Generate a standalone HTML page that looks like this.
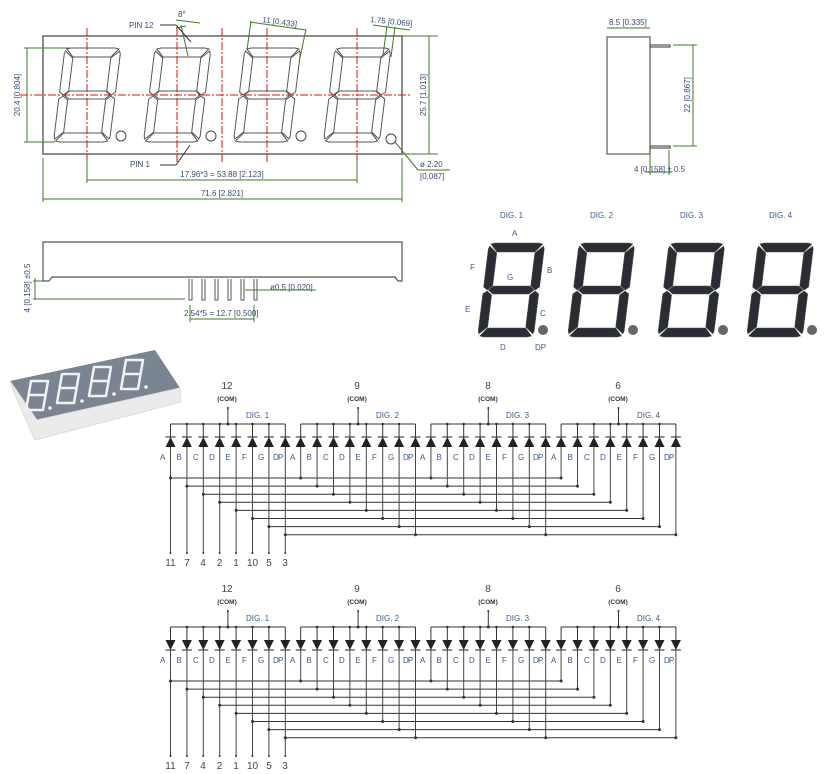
<!DOCTYPE html>
<html><head><meta charset="utf-8"><style>
html,body{margin:0;padding:0;background:#fff;}
svg{display:block;font-family:"Liberation Sans",sans-serif;}
.dim{stroke:#3f7a2c;stroke-width:1;fill:none}
.dt{fill:#3b4a70;font-size:8px;font-family:"Liberation Sans Narrow","Liberation Sans",sans-serif}
.red{stroke:#e01010;stroke-width:1;stroke-dasharray:8 2 2 2;fill:none}
.w{stroke:#333;stroke-width:1;fill:none}
.lb{font-size:8px;fill:#3a5a8f;font-family:"Liberation Sans Narrow","Liberation Sans",sans-serif}
.num{font-size:10px;fill:#444}
.com{font-size:6.5px;fill:#333;font-weight:bold}
.dg{font-size:8px;fill:#3a5a8f}
.bd{font-size:10px;fill:#444}
</style></head><body>
<svg id="s" width="824" height="774" viewBox="0 0 824 774" xmlns="http://www.w3.org/2000/svg">
<defs>
<g id="seg">
<polygon points="2,1 6,0 50,0 54,1 47,9 9,9"/>
<polygon points="55,3 56,6 56,44 52,47 47,43 47,10"/>
<polygon points="52,48 56,51 56,88 55,91 47,84 47,52"/>
<polygon points="9,85 47,85 54,93 50,94 6,94 2,93"/>
<polygon points="0,51 4,48 9,52 9,84 1,91 0,88"/>
<polygon points="1,3 9,10 9,43 4,47 0,44 0,6"/>
<polygon points="5,47 10,43 46,43 51,47 46,51 10,51"/>
</g>
</defs>

<!-- Top view -->
<rect x="43" y="36" width="359" height="118" fill="none" stroke="#666" stroke-width="1.5"/>
<g fill="none" stroke="#555" stroke-width="1">
<use href="#seg" transform="translate(65,48) skewX(-7)"/>
<use href="#seg" transform="translate(155,48) skewX(-7)"/>
<use href="#seg" transform="translate(245,48) skewX(-7)"/>
<use href="#seg" transform="translate(335,48) skewX(-7)"/>
</g>
<g fill="none" stroke="#444"><circle cx="121" cy="136" r="5"/><circle cx="211" cy="136" r="5"/><circle cx="301" cy="136" r="5"/><circle cx="391" cy="139" r="5"/></g>
<line class="red" x1="20" y1="95" x2="410" y2="95"/>
<line class="red" x1="87" y1="28" x2="87" y2="162"/>
<line class="red" x1="177" y1="28" x2="177" y2="162"/>
<line class="red" x1="222" y1="28" x2="222" y2="162"/>
<line class="red" x1="267" y1="28" x2="267" y2="162"/>
<line class="red" x1="357" y1="28" x2="357" y2="162"/>
<g class="dim">
<line x1="24" y1="48" x2="70" y2="48"/><line x1="24" y1="142" x2="55" y2="142"/><line x1="27" y1="48" x2="27" y2="142"/>
<line x1="402" y1="36" x2="438" y2="36"/><line x1="402" y1="154" x2="438" y2="154"/><line x1="429" y1="36" x2="429" y2="154"/>
<line x1="87" y1="160" x2="87" y2="183"/><line x1="357" y1="160" x2="357" y2="183"/><line x1="87" y1="180" x2="357" y2="180"/>
<line x1="43" y1="158" x2="43" y2="202"/><line x1="402" y1="158" x2="402" y2="202"/><line x1="43" y1="199" x2="402" y2="199"/>
<line x1="247" y1="50" x2="251" y2="21"/><line x1="300" y1="58" x2="306" y2="29"/><line x1="250" y1="22" x2="306" y2="30"/>
<line x1="383" y1="55" x2="387" y2="26"/><line x1="391" y1="57" x2="395" y2="27"/><line x1="373" y1="25" x2="410" y2="30"/>
<line x1="176" y1="28" x2="186" y2="26"/><line x1="176" y1="20" x2="200" y2="23"/>
<line x1="181" y1="25" x2="188" y2="56"/>
<line x1="395" y1="142" x2="418" y2="170"/><line x1="418" y1="170" x2="450" y2="170"/>
</g>
<g class="w"><line x1="160" y1="25" x2="176" y2="25"/><line x1="176" y1="25" x2="191" y2="42"/>
<line x1="160" y1="165" x2="176" y2="165"/><line x1="176" y1="165" x2="190" y2="145"/></g>
<text class="dt" x="20" y="95" transform="rotate(-90 20 95)" text-anchor="middle">20.4 [0.804]</text>
<text class="dt" x="426" y="95" transform="rotate(-90 426 95)" text-anchor="middle">25.7 [1.013]</text>
<text class="dt" x="222" y="177" text-anchor="middle">17.96*3 = 53.88 [2.123]</text>
<text class="dt" x="222" y="196" text-anchor="middle">71.6 [2.821]</text>
<text class="dt" x="262" y="22" transform="rotate(8 262 22)">11 [0.433]</text>
<text class="dt" x="370" y="22" transform="rotate(6 370 22)">1.75 [0.069]</text>
<text class="dt" x="178" y="17" fill="#b08a00">8°</text>
<text class="dt" x="129" y="28">PIN 12</text>
<text class="dt" x="130" y="167">PIN 1</text>
<text class="dt" x="420" y="167">ø 2.20</text>
<text class="dt" x="420" y="179">[0.087]</text>

<!-- right side view -->
<rect x="607" y="37" width="43" height="117" fill="none" stroke="#666" stroke-width="1.3"/>
<g class="w" stroke="#666"><path d="M650 45 h20 v2 h-20 M650 146 h20 v2 h-20"/></g>
<g class="dim"><line x1="607" y1="28" x2="650" y2="28"/><line x1="673" y1="45" x2="697" y2="45"/><line x1="673" y1="146" x2="697" y2="146"/><line x1="693" y1="45" x2="693" y2="146"/>
<line x1="650" y1="150" x2="650" y2="175"/><line x1="669" y1="150" x2="669" y2="175"/><line x1="645" y1="172" x2="672" y2="172"/></g>
<text class="dt" x="609" y="25">8.5 [0.335]</text>
<text class="dt" x="690" y="95" transform="rotate(-90 690 95)" text-anchor="middle">22 [0.867]</text>
<text class="dt" x="634" y="172">4 [0.158] ± 0.5</text>

<!-- side view -->
<path d="M43 242 H402 V281 H398 L395 277 H52 L49 281 H43 Z" fill="none" stroke="#555" stroke-width="1.2"/>
<g fill="none" stroke="#555"><path d="M189 279 V300 H192 V279 M202 279 V300 H205 V279 M215 279 V300 H218 V279 M228 279 V300 H231 V279 M241 279 V300 H244 V279 M254 279 V300 H257 V279"/></g>
<g class="dim"><line x1="33" y1="281" x2="43" y2="281"/><line x1="33" y1="299" x2="185" y2="299"/><line x1="35" y1="278" x2="35" y2="300"/>
<line x1="190" y1="305" x2="190" y2="322"/><line x1="254" y1="305" x2="254" y2="322"/><line x1="190" y1="319" x2="254" y2="319"/>
<line x1="245" y1="290" x2="316" y2="290"/></g>
<text class="dt" x="30" y="288" transform="rotate(-90 30 288)" text-anchor="middle">4 [0.158] ±0.5</text>
<text class="dt" x="270" y="290">ø0.5 [0.020]</text>
<text class="dt" x="184" y="316">2.54*5 = 12.7 [0.500]</text>

<!-- black digits -->
<g fill="#2a2d31" stroke="#555" stroke-width="0.5">
<use href="#seg" transform="translate(489,243) skewX(-7)"/>
<use href="#seg" transform="translate(579,243) skewX(-7)"/>
<use href="#seg" transform="translate(669,243) skewX(-7)"/>
<use href="#seg" transform="translate(758,243) skewX(-7)"/>
</g>
<g fill="#666"><circle cx="543" cy="330" r="5"/><circle cx="633" cy="330" r="5"/><circle cx="723" cy="330" r="5"/><circle cx="812" cy="330" r="5"/></g>
<g class="dg" font-size="9"><text x="500" y="218">DIG. 1</text><text x="590" y="218">DIG. 2</text><text x="680" y="218">DIG. 3</text><text x="769" y="218">DIG. 4</text>
<text x="512" y="236">A</text><text x="470" y="270">F</text><text x="547" y="273">B</text><text x="507" y="280">G</text><text x="465" y="312">E</text><text x="540" y="316">C</text><text x="500" y="350">D</text><text x="535" y="350">DP</text></g>

<!-- photo -->
<polygon points="10,381 155,350 180,388 37,420" fill="#7a8591"/>
<polygon points="10,381 37,420 180,388 181,402 35,440 15,395" fill="#ebebeb" stroke="#ddd"/>
<g fill="none" stroke="#f2f2f2" stroke-width="2.5" stroke-linejoin="round">
<path d="M31 381 h17 l-5 29 h-17 z M28 395 h17"/>
<path d="M62 374 h17 l-5 29 h-17 z M59 388 h17"/>
<path d="M94 367 h17 l-5 29 h-17 z M91 381 h17"/>
<path d="M126 360 h17 l-5 29 h-17 z M123 374 h17"/>
</g>
<g fill="#f2f2f2"><circle cx="50" cy="408" r="1.8"/><circle cx="82" cy="401" r="1.8"/><circle cx="114" cy="394" r="1.8"/><circle cx="146" cy="387" r="1.8"/></g>

<g id="sch1"></g>
<g id="sch2"></g>

<g class="num" text-anchor="middle"><text x="227" y="389">12</text><text x="357" y="389">9</text><text x="488" y="389">8</text><text x="618" y="389">6</text>
<text x="227" y="592">12</text><text x="357" y="592">9</text><text x="488" y="592">8</text><text x="618" y="592">6</text></g>
<g class="com" text-anchor="middle"><text x="227" y="401">(COM)</text><text x="357" y="401">(COM)</text><text x="488" y="401">(COM)</text><text x="618" y="401">(COM)</text>
<text x="227" y="604">(COM)</text><text x="357" y="604">(COM)</text><text x="488" y="604">(COM)</text><text x="618" y="604">(COM)</text></g>
<g class="dg"><text x="246" y="418">DIG. 1</text><text x="376" y="418">DIG. 2</text><text x="506" y="418">DIG. 3</text><text x="637" y="418">DIG. 4</text>
<text x="246" y="621">DIG. 1</text><text x="376" y="621">DIG. 2</text><text x="506" y="621">DIG. 3</text><text x="637" y="621">DIG. 4</text></g>
<g class="lb">
<text x="160 176.5 193 209 225.5 242 258 273 278" y="460">ABCDEFGDP</text>
<text x="290 306.5 323 339 355.5 372 388 403 408" y="460">ABCDEFGDP</text>
<text x="420 436.5 453 469 485.5 502 518 533 538" y="460">ABCDEFGDP</text>
<text x="551 567.5 584 600 616.5 633 649 664 669" y="460">ABCDEFGDP</text>
<text x="160 176.5 193 209 225.5 242 258 273 278" y="663">ABCDEFGDP</text>
<text x="290 306.5 323 339 355.5 372 388 403 408" y="663">ABCDEFGDP</text>
<text x="420 436.5 453 469 485.5 502 518 533 538" y="663">ABCDEFGDP</text>
<text x="551 567.5 584 600 616.5 633 649 664 669" y="663">ABCDEFGDP</text>
</g>
<g class="bd" text-anchor="middle">
<text x="170.5" y="566">11</text><text x="187" y="566">7</text><text x="203" y="566">4</text><text x="219.5" y="566">2</text><text x="236" y="566">1</text><text x="252.5" y="566">10</text><text x="269" y="566">5</text><text x="285" y="566">3</text>
<text x="170.5" y="769">11</text><text x="187" y="769">7</text><text x="203" y="769">4</text><text x="219.5" y="769">2</text><text x="236" y="769">1</text><text x="252.5" y="769">10</text><text x="269" y="769">5</text><text x="285" y="769">3</text>
</g>
</svg>
<script>
(function(){
var NS="http://www.w3.org/2000/svg";
function el(p,t,a){var e=document.createElementNS(NS,t);for(var k in a)e.setAttribute(k,a[k]);p.appendChild(e);return e;}
function build(gid,off,down){
 var g=document.getElementById(gid);
 var X=function(d,s){return 170.5+130.2*d+16.4*s;};
 for(var d=0;d<4;d++){
  var bus=424+off;
  el(g,"line",{x1:X(d,0),y1:bus,x2:X(d,7),y2:bus,stroke:"#333","stroke-width":1});
  var cx=X(d,3.5);
  el(g,"line",{x1:cx,y1:408+off,x2:cx,y2:bus,stroke:"#333"});
  el(g,"circle",{cx:cx,cy:408+off,r:1,fill:"#333"});
  el(g,"circle",{cx:cx,cy:bus,r:1.5,fill:"#333"});
  for(var s=0;s<8;s++){
   var x=X(d,s);
   el(g,"line",{x1:x,y1:bus,x2:x,y2:437+off,stroke:"#333"});
   if(s>0&&s<7) el(g,"circle",{cx:x,cy:bus,r:1.3,fill:"#333"});
   if(!down){
    el(g,"polygon",{points:(x-5)+","+(447+off)+" "+(x+5)+","+(447+off)+" "+x+","+(437+off),fill:"#222"});
    el(g,"line",{x1:x-5,y1:437+off,x2:x+5,y2:437+off,stroke:"#222"});
   } else {
    el(g,"polygon",{points:(x-5)+","+(437+off)+" "+(x+5)+","+(437+off)+" "+x+","+(447+off),fill:"#222"});
    el(g,"line",{x1:x-5,y1:447+off,x2:x+5,y2:447+off,stroke:"#222"});
   }
   var by=478+8.1*s+off;
   var yend=(d==0)?553+off:by;
   el(g,"line",{x1:x,y1:447+off,x2:x,y2:yend,stroke:"#444"});
   el(g,"circle",{cx:x,cy:by,r:1.5,fill:"#333"});
   if(d==0){el(g,"circle",{cx:x,cy:553+off,r:1,fill:"#333"});
     el(g,"line",{x1:x,y1:by,x2:X(3,s),y2:by,stroke:"#333"});}
  }
 }
}
build("sch1",0,false);build("sch2",203,true);
})();
</script>
</body></html>
